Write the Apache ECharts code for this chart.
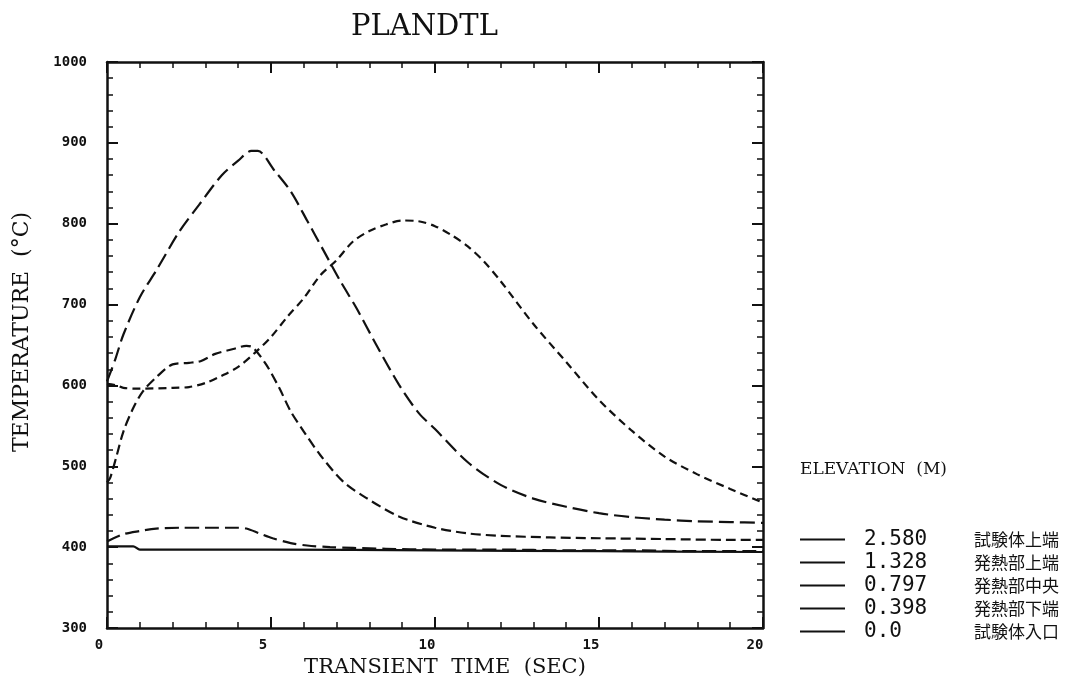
<!DOCTYPE html>
<html>
<head>
<meta charset="utf-8">
<script src="https://cdn.jsdelivr.net/npm/echarts@6/dist/echarts.min.js"></script>
<style>
html,body{margin:0;padding:0;background:#fff;}
#chart{width:1080px;height:693px;}
</style>
</head>
<body>
<div id="chart"></div>
<script>
// ---- data ----
const elevations = ['2.580', '1.328', '0.797', '0.398', '0.0'];
const positions = ['試験体上端', '発熱部上端', '発熱部中央', '発熱部下端', '試験体入口'];

const time2580 = [0, 0.5, 1, 1.5, 2.2, 3, 4, 4.25, 4.65, 5.05, 5.6, 6.1, 6.8, 7.5, 8.5, 10, 12, 14, 16, 18, 20];
const temp2580 = [407, 416, 420, 423, 424, 424, 424, 423, 417, 411, 405, 402, 400, 399, 398, 397, 397, 396, 396, 395, 395];

const time1328 = [0, 0.3, 0.5, 1, 2, 2.5, 3, 3.5, 4, 4.5, 5, 5.5, 6, 6.5, 7, 7.5, 8, 8.5, 9, 9.5, 10, 10.5, 11, 11.5, 12, 13, 14, 15, 16, 17, 18, 19, 20];
const temp1328 = [602, 600, 597, 596, 597, 598, 603, 612, 623, 640, 660, 685, 708, 736, 755, 778, 791, 799, 804, 803, 797, 786, 772, 753, 729, 676, 629, 582, 544, 512, 490, 472, 455];

const time0797 = [0, 0.25, 0.5, 1.0, 1.5, 2.2, 2.8, 3.5, 4.0, 4.4, 4.6, 5.1, 5.6, 6.1, 6.6, 7.1, 7.6, 8.2, 8.9, 9.5, 10.0, 11.0, 12.0, 13.0, 14.0, 15.0, 16.0, 17.0, 18.0, 19.0, 20.0];
const temp0797 = [605, 632, 663, 709, 742, 790, 823, 860, 878, 890, 890, 866, 840, 804, 767, 730, 696, 651, 601, 566, 546, 505, 477, 460, 450, 442, 437, 434, 432, 431, 430];

const time0398 = [0, 0.1, 0.3, 0.5, 0.8, 1.1, 1.5, 2.0, 2.5, 2.85, 3.3, 3.85, 4.25, 4.45, 4.85, 5.25, 5.6, 6.0, 6.5, 7.2, 7.9, 8.9, 10, 11, 12, 13.5, 15, 17, 19, 20];
const temp0398 = [480, 486, 514, 543, 572, 593, 610, 626, 628, 630, 639, 645, 649, 647, 626, 597, 568, 543, 514, 481, 461, 438, 424, 417, 414, 412, 411, 410, 409, 409];

const time0000 = [0, 0.8, 1.0, 5, 10, 15, 20];
const temp0000 = [401, 401, 397, 397, 396, 395, 394];

const xTicks = { min: 0, max: 20, interval: 5 };
const yTicks = { min: 300, max: 1000, interval: 100 };

// ---- build ----
const zip = (t, v) => t.map((x, i) => [x, v[i]]);
const seriesData = [zip(time2580, temp2580), zip(time1328, temp1328), zip(time0797, temp0797), zip(time0398, temp0398), zip(time0000, temp0000)];
const dashes = [[14, 6], [8, 5], [15, 6], [10, 5], 'solid'];
const INK = '#111';
const serif = 'DejaVu Serif';
const tickFont = { fontFamily: 'DejaVu Sans Mono', fontWeight: 'bold', fontSize: 14, color: INK };

function axisCommon() {
  return {
    axisLine: { show: true, onZero: false, lineStyle: { color: INK, width: 2.5 } },
    axisTick: { show: true, inside: true, length: 11, lineStyle: { color: INK, width: 2 } },
    minorTick: { show: true, splitNumber: 5, length: 6, lineStyle: { color: INK, width: 1.5 } },
    splitLine: { show: false },
    minorSplitLine: { show: false }
  };
}

const option = {
  backgroundColor: '#fff',
  animation: false,
  title: [
    { text: 'PLANDTL', left: 346, top: 8, textStyle: { fontFamily: serif, fontWeight: 'normal', fontSize: 29, color: INK } },
    { text: 'ELEVATION  (M)', left: 795, top: 456, textStyle: { fontFamily: serif, fontWeight: 'normal', fontSize: 17, color: INK } }
  ],
  grid: { left: 107, right: 317, top: 62, bottom: 65 },
  xAxis: [
    Object.assign(axisCommon(), {
      type: 'value', position: 'bottom', min: xTicks.min, max: xTicks.max, interval: xTicks.interval,
      name: 'TRANSIENT  TIME  (SEC)', nameLocation: 'middle', nameGap: 26,
      nameTextStyle: { fontFamily: serif, fontSize: 21, color: INK, padding: [0, 0, 0, 20] },
      axisLabel: Object.assign({ margin: 10, padding: [0, 16, 0, 0], formatter: v => String(v) }, tickFont)
    }),
    Object.assign(axisCommon(), {
      type: 'value', position: 'top', min: xTicks.min, max: xTicks.max, interval: xTicks.interval,
      axisLabel: { show: false }
    })
  ],
  yAxis: [
    Object.assign(axisCommon(), {
      type: 'value', position: 'left', min: yTicks.min, max: yTicks.max, interval: yTicks.interval,
      name: 'TEMPERATURE  (°C)', nameLocation: 'middle', nameGap: 74, nameRotate: 90,
      nameTextStyle: { fontFamily: serif, fontSize: 22, color: INK, padding: [0, 0, 0, 26] },
      axisLabel: Object.assign({ margin: 20, formatter: v => String(v) }, tickFont)
    }),
    Object.assign(axisCommon(), {
      type: 'value', position: 'right', min: yTicks.min, max: yTicks.max, interval: yTicks.interval,
      axisLabel: { show: false }
    })
  ],
  legend: {
    orient: 'vertical', left: 795, top: 524,
    itemWidth: 45, itemHeight: 14, itemGap: 2,
    icon: 'path://M0,6 L45,6 L45,8 L0,8 Z',
    itemStyle: { color: INK },
    inactiveColor: INK,
    selectedMode: false,
    data: elevations,
    formatter: name => '{v|' + name + '}{j|' + positions[elevations.indexOf(name)] + '}',
    textStyle: {
      color: INK,
      rich: {
        v: { fontFamily: 'DejaVu Sans Mono', fontSize: 21, width: 110, padding: [0, 0, 0, 14], lineHeight: 20, color: INK },
        j: { fontFamily: 'Noto Sans CJK JP', fontSize: 17, lineHeight: 20, color: INK }
      }
    }
  },
  series: elevations.map((name, i) => ({
    name: name,
    type: 'line',
    xAxisIndex: 0, yAxisIndex: 0,
    data: seriesData[i],
    symbol: 'none',
    smooth: 0.3,
    lineStyle: { color: INK, width: 2.2, type: dashes[i] },
    itemStyle: { color: INK }
  }))
};

const chart = echarts.init(document.getElementById('chart'), null, { renderer: 'canvas' });
chart.setOption(option);
</script>
</body>
</html>
